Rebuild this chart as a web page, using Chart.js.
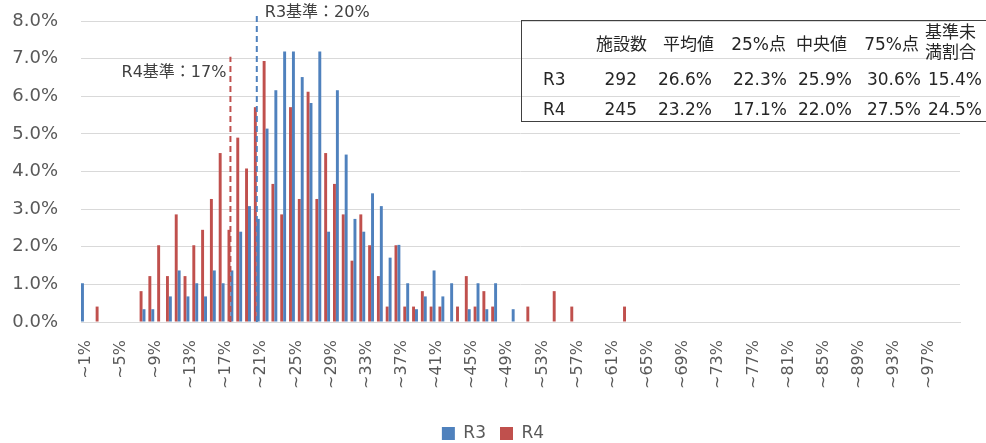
<!DOCTYPE html>
<html>
<head>
<meta charset="utf-8">
<script src="https://cdn.jsdelivr.net/npm/chart.js@4/dist/chart.umd.min.js"></script>
<style>
  body { margin: 0; background: #fff; }
  #wrap { position: relative; width: 986px; height: 443px; overflow: hidden; }
  #stats { position: absolute; left: 521px; top: 20px; width: 480px; height: 102px; border: 1.5px solid #404040; box-sizing: border-box; }
  .cell { position: absolute; font-family: "DejaVu Sans", "Noto Sans CJK JP", sans-serif; font-size: 17px; color: #262626; white-space: nowrap; line-height: 1; }
</style>
</head>
<body>
<div id="wrap">
  <canvas id="myChart" width="986" height="443"></canvas>
  <div id="stats"></div>
</div>
<script>
// 区分 (~1% .. ~100%)
const categories = [
  '~1%','~2%','~3%','~4%','~5%','~6%','~7%','~8%','~9%','~10%',
  '~11%','~12%','~13%','~14%','~15%','~16%','~17%','~18%','~19%','~20%',
  '~21%','~22%','~23%','~24%','~25%','~26%','~27%','~28%','~29%','~30%',
  '~31%','~32%','~33%','~34%','~35%','~36%','~37%','~38%','~39%','~40%',
  '~41%','~42%','~43%','~44%','~45%','~46%','~47%','~48%','~49%','~50%',
  '~51%','~52%','~53%','~54%','~55%','~56%','~57%','~58%','~59%','~60%',
  '~61%','~62%','~63%','~64%','~65%','~66%','~67%','~68%','~69%','~70%',
  '~71%','~72%','~73%','~74%','~75%','~76%','~77%','~78%','~79%','~80%',
  '~81%','~82%','~83%','~84%','~85%','~86%','~87%','~88%','~89%','~90%',
  '~91%','~92%','~93%','~94%','~95%','~96%','~97%','~98%','~99%','~100%'
];

// 施設の割合 (%)
const r3Values = [
  1.03, 0, 0, 0, 0, 0, 0, 0.34, 0.34, 0,
  0.68, 1.37, 0.68, 1.03, 0.68, 1.37, 1.03, 1.37, 2.40, 3.08,
  2.74, 5.14, 6.16, 7.19, 7.19, 6.51, 5.82, 7.19, 2.40, 6.16,
  4.45, 2.74, 2.40, 3.42, 3.08, 1.71, 2.05, 1.03, 0.34, 0.68,
  1.37, 0.68, 1.03, 0, 0.34, 1.03, 0.34, 1.03, 0, 0.34,
  0, 0, 0, 0, 0, 0, 0, 0, 0, 0,
  0, 0, 0, 0, 0, 0, 0, 0, 0, 0,
  0, 0, 0, 0, 0, 0, 0, 0, 0, 0,
  0, 0, 0, 0, 0, 0, 0, 0, 0, 0,
  0, 0, 0, 0, 0, 0, 0, 0, 0, 0
];
const r4Values = [
  0, 0.41, 0, 0, 0, 0, 0.82, 1.22, 2.04, 1.22,
  2.86, 1.22, 2.04, 2.45, 3.27, 4.49, 2.45, 4.90, 4.08, 5.71,
  6.94, 3.67, 2.86, 5.71, 3.27, 6.12, 3.27, 4.49, 3.67, 2.86,
  1.63, 2.86, 2.04, 1.22, 0.41, 2.04, 0.41, 0.41, 0.82, 0.41,
  0.41, 0, 0.41, 1.22, 0.41, 0.82, 0.41, 0, 0, 0,
  0.41, 0, 0, 0.82, 0, 0.41, 0, 0, 0, 0,
  0, 0.41, 0, 0, 0, 0, 0, 0, 0, 0,
  0, 0, 0, 0, 0, 0, 0, 0, 0, 0,
  0, 0, 0, 0, 0, 0, 0, 0, 0, 0,
  0, 0, 0, 0, 0, 0, 0, 0, 0, 0
];

// 基準線
const refLabels = ['R4基準：17%', 'R3基準：20%'];
const refValues = [17, 20];
const refTops = [7.05, 8.15];

// 統計表
const tableHeaders = ['施設数', '平均値', '25%点', '中央値', '75%点', '基準未\n満割合'];
const tableRowNames = ['R3', 'R4'];
const tableR3 = ['292', '26.6%', '22.3%', '25.9%', '30.6%', '15.4%'];
const tableR4 = ['245', '23.2%', '17.1%', '22.0%', '27.5%', '24.5%'];

const FONT = '"DejaVu Sans", "Noto Sans CJK JP", sans-serif';
const BLUE = '#4f81bd';
const RED = '#c0504d';

// 表のセル（canvas外のテキスト）
const stats = document.getElementById('stats');
const headRight = [127, 194, 266, 327, 399, 456];
const dataRight = [117, 192, 267, 332, 401, 462];
function addCell(text, x, y, align) {
   const d = document.createElement('div');
   d.className = 'cell';
   d.textContent = text;
   d.style.top = y + 'px';
   if (align === 'right') {
      d.style.right = (480 - x) + 'px';
   } else {
      d.style.left = x + 'px';
   }
   stats.appendChild(d);
}
tableHeaders.forEach((h, i) => {
   if (h.includes('\n')) {
      const parts = h.split('\n');
      addCell(parts[0], headRight[i], 3, 'right');
      addCell(parts[1], headRight[i], 23, 'right');
   } else {
      addCell(h, headRight[i], 15, 'right');
   }
});
[tableR3, tableR4].forEach((row, r) => {
   const y = r === 0 ? 50 : 80;
   addCell(tableRowNames[r], 21, y, 'left');
   row.forEach((v, i) => addCell(v, dataRight[i], y, 'right'));
});

const refLinePlugin = {
   id: 'refLines',
   afterDatasetsDraw(chart) {
      const {ctx, scales: {x, y}} = chart;
      ctx.save();
      refValues.forEach((v, i) => {
         const px = (x.getPixelForValue(v - 1) + x.getPixelForValue(v)) / 2;
         const top = y.getPixelForValue(refTops[i]);
         ctx.strokeStyle = i === 0 ? RED : BLUE;
         ctx.lineWidth = 2;
         ctx.setLineDash([6, 4]);
         ctx.beginPath();
         ctx.moveTo(px, y.getPixelForValue(0));
         ctx.lineTo(px, top);
         ctx.stroke();

         ctx.setLineDash([]);
         ctx.fillStyle = '#404040';
         ctx.font = '16px ' + FONT;
         ctx.textBaseline = 'middle';
         if (i === 0) {
            ctx.textAlign = 'right';
            ctx.fillText(refLabels[i], px - 4, top + 16);
         } else {
            ctx.textAlign = 'left';
            ctx.fillText(refLabels[i], px + 8, top - 3);
         }
      });
      ctx.restore();
   }
};

const ctx = document.getElementById('myChart').getContext('2d');
new Chart(ctx, {
   type: 'bar',
   data: {
      labels: categories,
      datasets: [
         {label: 'R3', data: r3Values, backgroundColor: BLUE, categoryPercentage: 4 / 3, barPercentage: 0.5},
         {label: 'R4', data: r4Values, backgroundColor: RED, categoryPercentage: 4 / 3, barPercentage: 0.5}
      ]
   },
   options: {
      responsive: false,
      animation: false,
      layout: {padding: {top: 21, right: 0, left: 0, bottom: -9}},
      plugins: {
         tooltip: {enabled: false},
         legend: {
            position: 'bottom',
            labels: {
               boxWidth: 13, boxHeight: 13, padding: 14,
               color: '#595959',
               font: {family: FONT, size: 17}
            }
         }
      },
      scales: {
         x: {
            grid: {display: false},
            border: {display: true, color: '#d9d9d9', width: 1},
            ticks: {
               autoSkip: false, minRotation: 90, maxRotation: 90, padding: 10,
               color: '#595959',
               font: {family: FONT, size: 16},
               callback: (v, i) => i % 4 === 0 ? categories[i] : ''
            },
            afterFit: (s) => { s.height = 89; }
         },
         y: {
            min: 0, max: 8,
            border: {display: false},
            grid: {color: '#d9d9d9', lineWidth: 1, drawTicks: false},
            ticks: {
               stepSize: 1, padding: 23,
               color: '#595959',
               font: {family: FONT, size: 18},
               callback: v => v.toFixed(1) + '%'
            },
            afterFit: (s) => { s.width = 81; s.paddingTop = 0; s.paddingBottom = 0; }
         },
         // 右側の余白
         yPad: {
            position: 'right',
            display: true,
            grid: {display: false},
            border: {display: false},
            ticks: {display: false},
            afterFit: (s) => { s.width = 26; s.paddingTop = 0; s.paddingBottom = 0; }
         }
      }
   },
   plugins: [refLinePlugin]
});
</script>
</body>
</html>
